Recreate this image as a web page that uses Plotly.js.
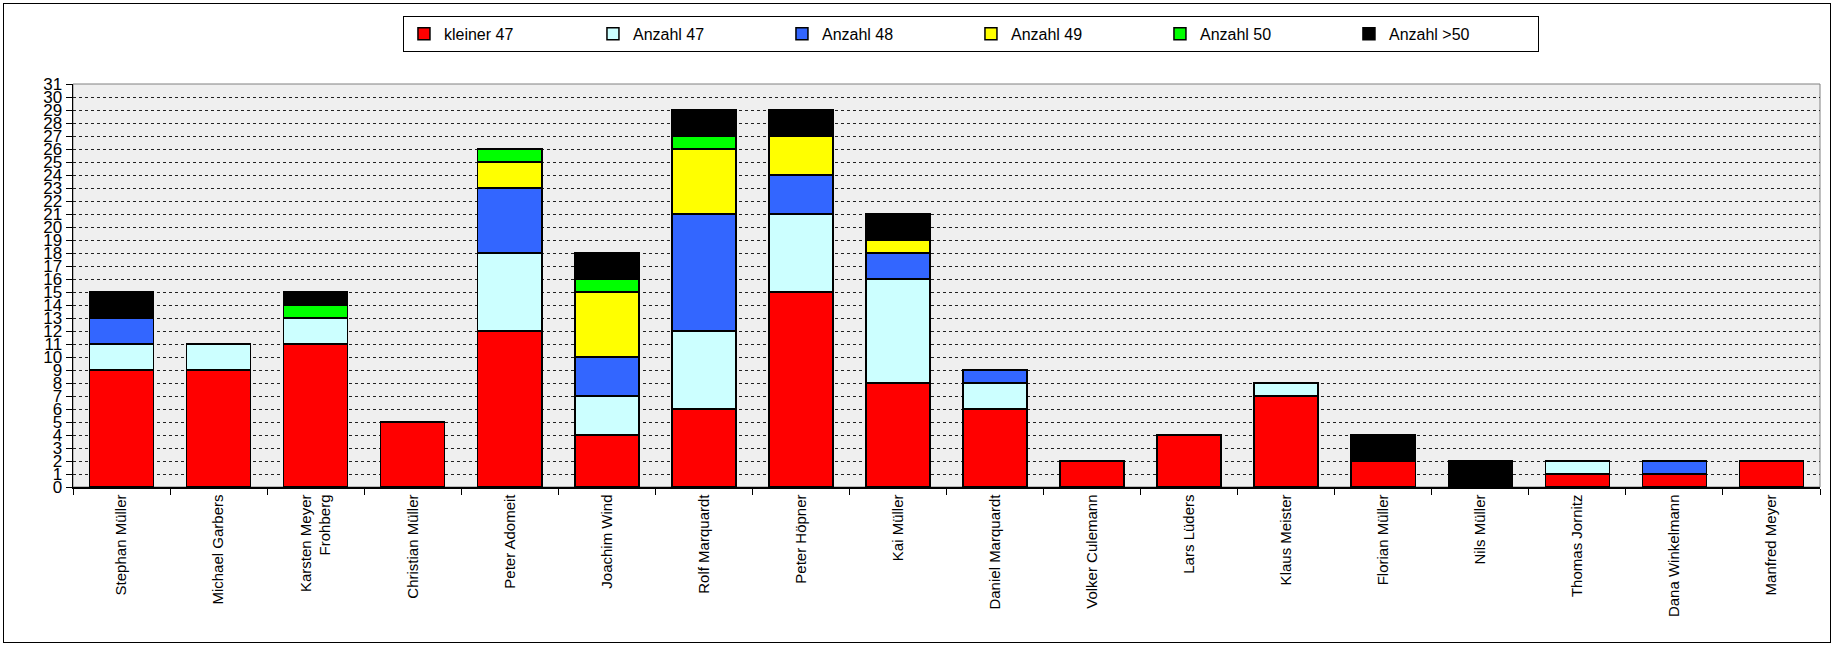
<!DOCTYPE html>
<html>
<head>
<meta charset="utf-8">
<script src="https://cdn.plot.ly/plotly-3.0.1.min.js"></script>
<style>
  html, body { margin: 0; padding: 0; background: #fff; }
  #wrap { position: relative; width: 1835px; height: 645px; }
  #chart { width: 1835px; height: 645px; }
  #frame { position: absolute; left: 3px; top: 3px; width: 1826px; height: 638px; border: 1px solid #000; pointer-events: none; }
</style>
</head>
<body>
<div id="wrap"><div id="chart"></div><div id="frame"></div></div>
<script>
const names = ["Stephan Müller", "Michael Garbers", "Karsten Meyer<br>Frohberg", "Christian Müller", "Peter Adomeit",
  "Joachim Wind", "Rolf Marquardt", "Peter Höpner", "Kai Müller", "Daniel Marquardt", "Volker Culemann",
  "Lars Lüders", "Klaus Meister", "Florian Müller", "Nils Müller", "Thomas Jornitz", "Dana Winkelmann", "Manfred Meyer"];
const kleiner47 = [9, 9, 11, 5, 12, 4, 6, 15, 8, 6, 2, 4, 7, 2, 0, 1, 1, 2];
const anzahl47  = [2, 2, 2, 0, 6, 3, 6, 6, 8, 2, 0, 0, 1, 0, 0, 1, 0, 0];
const anzahl48  = [2, 0, 0, 0, 5, 3, 9, 3, 2, 1, 0, 0, 0, 0, 0, 0, 1, 0];
const anzahl49  = [0, 0, 0, 0, 2, 5, 5, 3, 1, 0, 0, 0, 0, 0, 0, 0, 0, 0];
const anzahl50  = [0, 0, 1, 0, 1, 1, 1, 0, 0, 0, 0, 0, 0, 0, 0, 0, 0, 0];
const anzahlGt50 = [2, 0, 1, 0, 0, 2, 2, 2, 2, 0, 0, 0, 0, 2, 2, 0, 0, 0];
const seriesNames = ["kleiner 47", "Anzahl 47", "Anzahl 48", "Anzahl 49", "Anzahl 50", "Anzahl >50"];
const seriesColors = ["#FF0000", "#CCFFFF", "#3366FF", "#FFFF00", "#00FF00", "#000000"];
const seriesData = [kleiner47, anzahl47, anzahl48, anzahl49, anzahl50, anzahlGt50];

const traces = seriesData.map((vals, i) => ({
  type: 'bar',
  name: seriesNames[i],
  x: names,
  y: vals,
  marker: { color: seriesColors[i], line: { color: '#000', width: 1.5 } },
  hoverinfo: 'x+y+name'
}));

const layout = {
  width: 1835, height: 645,
  barmode: 'stack',
  bargap: 0.34,
  paper_bgcolor: '#ffffff',
  plot_bgcolor: '#efefef',
  margin: { l: 73, r: 15, t: 84, b: 158, pad: 0 },
  font: { family: 'Liberation Sans, Arial, sans-serif', color: '#000' },
  showlegend: true,
  legend: {
    orientation: 'h',
    x: 0.514, xanchor: 'center',
    y: 1.169, yanchor: 'top',
    bgcolor: '#fff', bordercolor: '#000', borderwidth: 1,
    font: { size: 16, family: 'Liberation Sans, Arial, sans-serif', color: '#000' },
    entrywidth: 144, entrywidthmode: 'pixels',
    itemwidth: 30,
    traceorder: 'normal',
    itemclick: false
  },
  xaxis: {
    type: 'category',
    tickangle: -90,
    tickfont: { size: 15, family: 'Liberation Sans, Arial, sans-serif', color: '#000' },
    ticks: 'outside', ticklen: 6, tickcolor: '#000', tickson: 'boundaries',
    showline: true, linecolor: '#000', linewidth: 1.5,
    showgrid: false,
    fixedrange: true
  },
  yaxis: {
    range: [0, 31], dtick: 1, tick0: 0,
    tickfont: { size: 17, family: 'Liberation Sans, Arial, sans-serif', color: '#000' },
    ticks: 'outside', ticklen: 6, tickcolor: '#000',
    showline: true, linecolor: '#000', linewidth: 1.5,
    showgrid: true, gridcolor: '#222', gridwidth: 1, griddash: 'dot',
    zeroline: false,
    fixedrange: true
  },
  shapes: [{
    type: 'rect', xref: 'paper', yref: 'paper', x0: 0, x1: 1, y0: 0, y1: 1,
    line: { color: '#808080', width: 1 }, layer: 'below'
  }]
};

Plotly.newPlot('chart', traces, layout, { displayModeBar: false, staticPlot: true });
</script>
</body>
</html>
